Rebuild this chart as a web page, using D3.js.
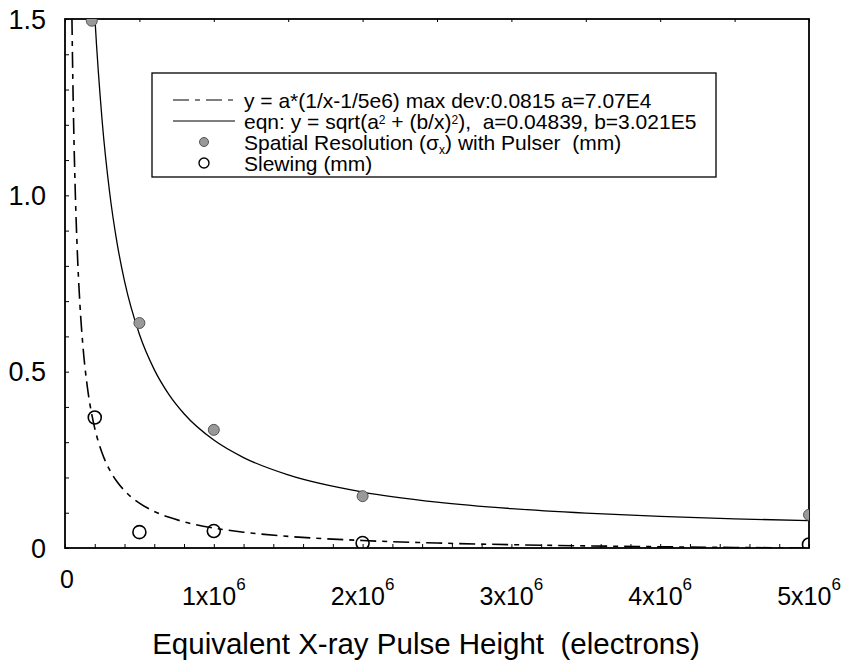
<!DOCTYPE html>
<html>
<head>
<meta charset="utf-8">
<script src="https://cdn.jsdelivr.net/npm/d3@7"></script>
<style>
  body { margin: 0; background: #fff; }
  svg text { font-family: "Liberation Sans", Arial, sans-serif; fill: #000; white-space: pre; }
  .axis path, .axis line { stroke: #000; }
</style>
</head>
<body>
<div id="chart"></div>
<script>
"use strict";

// measured points
var resX = [0.18e6, 0.5e6, 1.0e6, 2.0e6, 5.0e6],
    resY = [1.495, 0.638, 0.335, 0.147, 0.094];
var slewX = [0.2e6, 0.5e6, 1.0e6, 2.0e6, 5.0e6],
    slewY = [0.37, 0.045, 0.048, 0.014, 0.01];

// fit parameters from the legend
var dashA = 7.07e4, dashX0 = 5e6;
var solidA = 0.04839, solidB = 3.021e5;
var fitX = [0.03e6, 0.04e6, 0.05e6, 0.06e6, 0.07e6, 0.08e6, 0.1e6, 0.12e6, 0.15e6, 0.18e6,
            0.2e6, 0.25e6, 0.3e6, 0.35e6, 0.4e6, 0.5e6, 0.6e6, 0.7e6, 0.8e6, 1.0e6,
            1.2e6, 1.5e6, 2.0e6, 2.5e6, 3.0e6, 3.5e6, 4.0e6, 4.5e6, 5.0e6];

var xTicks = [0, 1e6, 2e6, 3e6, 4e6, 5e6],
    xTickLabels = ["0", "1x10", "2x10", "3x10", "4x10", "5x10"];
var yTicks = [0, 0.5, 1.0, 1.5],
    yTickLabels = ["0", "0.5", "1.0", "1.5"];

var legendLabels = [
    "y = a*(1/x-1/5e6) max dev:0.0815 a=7.07E4",
    "eqn: y = sqrt(a",
    "Spatial Resolution (",
    "Slewing (mm)"
];

var margin = {top: 19, right: 41, bottom: 112, left: 65},
    width = 850 - margin.left - margin.right,
    height = 660 - margin.top - margin.bottom;

var x = d3.scaleLinear().domain([0, 5e6]).range([0, width]),
    y = d3.scaleLinear().domain([0, 1.5]).range([height, 0]);

var svg = d3.select("#chart")
    .append("svg")
    .attr("width", 850)
    .attr("height", 660)
    .append("g")
    .attr("transform", "translate(" + margin.left + "," + margin.top + ")");

svg.append("clipPath").attr("id", "plot")
    .append("rect").attr("width", width).attr("height", height);

// inward ticks
svg.append("g")
    .attr("class", "axis")
    .attr("transform", "translate(0," + height + ")")
    .call(d3.axisBottom(x).tickValues(d3.range(0, 5.01e6, 0.2e6)).tickSize(-4).tickFormat(""))
    .call(g => g.select(".domain").remove());
svg.append("g")
    .attr("class", "axis")
    .call(d3.axisLeft(y).tickValues(d3.range(0, 1.51, 0.1)).tickSize(-4).tickFormat(""))
    .call(g => g.select(".domain").remove());
svg.append("g")
    .attr("class", "axis")
    .call(d3.axisTop(x).tickValues(d3.range(0, 5.01e6, 0.5e6)).tickSize(-3).tickFormat(""))
    .call(g => g.select(".domain").remove());

// frame
svg.append("rect")
    .attr("width", width).attr("height", height)
    .attr("fill", "none").attr("stroke", "#000").attr("stroke-width", 1.8);

// tick labels
svg.selectAll(".ylab")
    .data(yTicks)
    .enter().append("text")
    .attr("x", -19)
    .attr("y", d => y(d))
    .attr("dy", "0.36em")
    .attr("text-anchor", "end")
    .attr("font-size", 27)
    .text((d, i) => yTickLabels[i]);

var xl = svg.selectAll(".xlab")
    .data(xTicks)
    .enter().append("text")
    .attr("x", d => x(d) + (d === 0 ? 2 : 0))
    .attr("y", d => height + (d === 0 ? 40 : 57))
    .attr("text-anchor", "middle")
    .attr("font-size", 25);
xl.append("tspan").text((d, i) => xTickLabels[i]);
xl.filter(d => d > 0).append("tspan")
    .attr("dy", -15).attr("font-size", 17).text("6");

svg.append("text")
    .attr("x", width / 2 - 11)
    .attr("y", height + 106)
    .attr("text-anchor", "middle")
    .attr("font-size", 29.5)
    .text("Equivalent X-ray Pulse Height  (electrons)");

// fit curves
var plot = svg.append("g").attr("clip-path", "url(#plot)");

var line = d3.line().x(d => x(d[0])).y(d => y(d[1])).curve(d3.curveMonotoneX);

var dashData = fitX.map(v => [v, dashA * (1 / v - 1 / dashX0)]);
var solidData = fitX.map(v => [v, Math.sqrt(solidA * solidA + (solidB / v) * (solidB / v))]);

plot.append("path")
    .datum(dashData)
    .attr("d", line)
    .attr("fill", "none").attr("stroke", "#000").attr("stroke-width", 1.6)
    .attr("stroke-dasharray", "16,6,5,6");

plot.append("path")
    .datum(solidData)
    .attr("d", line)
    .attr("fill", "none").attr("stroke", "#000").attr("stroke-width", 1.3);

// points
plot.selectAll(".res")
    .data(resX)
    .enter().append("circle")
    .attr("cx", d => x(d))
    .attr("cy", (d, i) => y(resY[i]))
    .attr("r", 5.5)
    .attr("fill", "#999")
    .attr("stroke", "#555").attr("stroke-width", 1);

plot.selectAll(".slew")
    .data(slewX)
    .enter().append("circle")
    .attr("cx", d => x(d))
    .attr("cy", (d, i) => y(slewY[i]))
    .attr("r", 6.5)
    .attr("fill", "none")
    .attr("stroke", "#000").attr("stroke-width", 1.6);

// legend
var lg = svg.append("g").attr("transform", "translate(" + (152 - margin.left) + "," + (73 - margin.top) + ")");
lg.append("rect")
    .attr("width", 564).attr("height", 104)
    .attr("fill", "#fff").attr("stroke", "#000").attr("stroke-width", 1.3);

var rowY = [27, 48, 69, 90];
lg.append("line")
    .attr("x1", 21).attr("x2", 83).attr("y1", rowY[0]).attr("y2", rowY[0])
    .attr("stroke", "#000").attr("stroke-width", 1.2).attr("stroke-dasharray", "16,6,5,6");
lg.append("line")
    .attr("x1", 21).attr("x2", 83).attr("y1", rowY[1]).attr("y2", rowY[1])
    .attr("stroke", "#000").attr("stroke-width", 1.2);
lg.append("circle")
    .attr("cx", 52).attr("cy", rowY[2]).attr("r", 4.5)
    .attr("fill", "#999").attr("stroke", "#555");
lg.append("circle")
    .attr("cx", 52).attr("cy", rowY[3]).attr("r", 5)
    .attr("fill", "none").attr("stroke", "#000").attr("stroke-width", 1.4);

function legendText(i) {
    return lg.append("text")
        .attr("x", 92)
        .attr("y", rowY[i])
        .attr("dy", "0.36em")
        .attr("font-size", 21);
}

legendText(0).text(legendLabels[0]);

var t1 = legendText(1);
t1.append("tspan").text(legendLabels[1]);
t1.append("tspan").attr("dy", -5).attr("font-size", 12).text("2");
t1.append("tspan").attr("dy", 5).text(" + (b/x)");
t1.append("tspan").attr("dy", -5).attr("font-size", 12).text("2");
t1.append("tspan").attr("dy", 5).text("),  a=0.04839, b=3.021E5");

var t2 = legendText(2);
t2.append("tspan").text(legendLabels[2]);
t2.append("tspan").text("\u03c3");
t2.append("tspan").attr("dy", 4).attr("font-size", 12).text("x");
t2.append("tspan").attr("dy", -4).text(") with Pulser  (mm)");

legendText(3).text(legendLabels[3]);
</script>
</body>
</html>
